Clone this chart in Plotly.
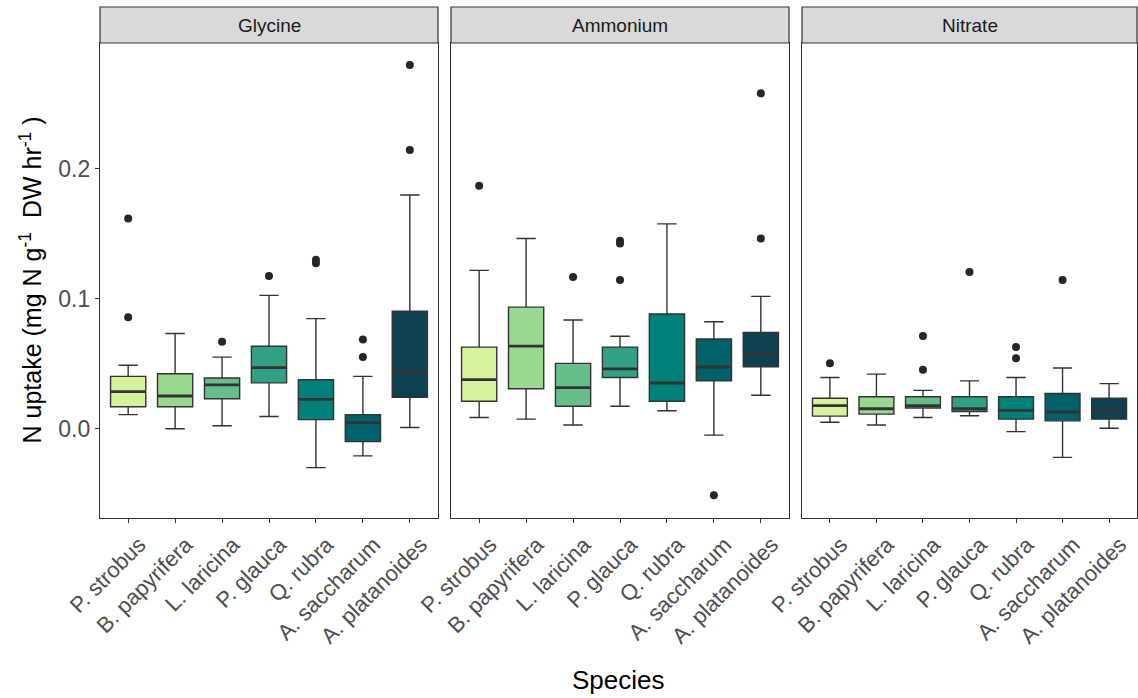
import plotly.graph_objects as go

# ---- data -------------------------------------------------------------
species = ["P. strobus", "B. papyrifera", "L. laricina", "P. glauca",
           "Q. rubra", "A. saccharum", "A. platanoides"]
fills = ["#D5F39F", "#99D891", "#66BE8A", "#33A086", "#00807A", "#00616A", "#0D4050"]
panels = ["Glycine", "Ammonium", "Nitrate"]

# Glycine
gly_low = [0.0109, 0.0000, 0.0023, 0.0094, -0.0299, -0.0208, 0.0010]
gly_q1 = [0.0169, 0.0169, 0.0231, 0.0353, 0.0070, -0.0099, 0.0242]
gly_med = [0.0286, 0.0252, 0.0338, 0.0470, 0.0226, 0.0047, 0.0434]
gly_q3 = [0.0403, 0.0423, 0.0390, 0.0634, 0.0377, 0.0109, 0.0904]
gly_high = [0.0488, 0.0732, 0.0551, 0.1026, 0.0847, 0.0403, 0.1797]
gly_out_sp = [0, 0, 2, 3, 4, 4, 5, 5, 6, 6]
gly_out_val = [0.1616, 0.0857, 0.0670, 0.1174, 0.1299, 0.1273, 0.0686, 0.0551, 0.2797, 0.2143]

# Ammonium
amm_low = [0.0087, 0.0074, 0.0029, 0.0173, 0.0139, -0.0049, 0.0258]
amm_q1 = [0.0212, 0.0308, 0.0173, 0.0394, 0.0212, 0.0368, 0.0477]
amm_med = [0.0378, 0.0636, 0.0316, 0.0461, 0.0352, 0.0475, 0.0576]
amm_q3 = [0.0628, 0.0935, 0.0503, 0.0628, 0.0883, 0.0690, 0.0740]
amm_high = [0.1218, 0.1463, 0.0836, 0.0711, 0.1575, 0.0823, 0.1018]
amm_out_sp = [0, 2, 3, 3, 3, 5, 6, 6]
amm_out_val = [0.1868, 0.1166, 0.1445, 0.1425, 0.1143, -0.0512, 0.2579, 0.1463]

# Nitrate
nit_low = [0.0050, 0.0029, 0.0087, 0.0100, -0.0022, -0.0220, 0.0004]
nit_q1 = [0.0097, 0.0113, 0.0160, 0.0133, 0.0074, 0.0061, 0.0074]
nit_med = [0.0178, 0.0154, 0.0178, 0.0154, 0.0142, 0.0129, 0.0144]
nit_q3 = [0.0235, 0.0246, 0.0246, 0.0246, 0.0246, 0.0271, 0.0235]
nit_high = [0.0394, 0.0420, 0.0295, 0.0368, 0.0394, 0.0467, 0.0347]
nit_out_sp = [0, 2, 2, 3, 4, 4, 5]
nit_out_val = [0.0503, 0.0713, 0.0454, 0.1205, 0.0628, 0.0542, 0.1143]

y_ticks = [0.0, 0.1, 0.2]
y_ticktext = ["0.0", "0.1", "0.2"]

stats = [
    (gly_low, gly_q1, gly_med, gly_q3, gly_high, gly_out_sp, gly_out_val),
    (amm_low, amm_q1, amm_med, amm_q3, amm_high, amm_out_sp, amm_out_val),
    (nit_low, nit_q1, nit_med, nit_q3, nit_high, nit_out_sp, nit_out_val),
]

# ---- layout geometry --------------------------------------------------
W, H = 1138, 698
FONT = "Liberation Sans, Arial, sans-serif"
EDGE = "#333333"
TXT = "#4D4D4D"
BOX_W = 0.75
panel_px = [(100, 438), (451, 789), (802, 1137)]
plot_top, plot_bot = 43, 518
strip_top = 7
y_dom = [(H - plot_bot) / H, (H - plot_top) / H]
y_range = [-0.0686, 0.2966]

fig = go.Figure()

for p, (low, q1, med, q3, high, osp, oval) in enumerate(stats):
    xa = "x" if p == 0 else f"x{p + 1}"
    ya = "y" if p == 0 else f"y{p + 1}"
    for i in range(len(species)):
        fig.add_trace(go.Box(
            x=[i], q1=[q1[i]], median=[med[i]], q3=[q3[i]],
            lowerfence=[low[i]], upperfence=[high[i]],
            width=BOX_W, whiskerwidth=0.55,
            fillcolor=fills[i], line=dict(color=EDGE, width=1.4),
            boxpoints=False, hoverinfo="skip",
            xaxis=xa, yaxis=ya, showlegend=False,
        ))
        # thicker median bar, as in ggplot boxplots
        fig.add_trace(go.Scatter(
            x=[i - BOX_W / 2, i + BOX_W / 2], y=[med[i], med[i]],
            mode="lines", line=dict(color=EDGE, width=2.8),
            hoverinfo="skip", xaxis=xa, yaxis=ya, showlegend=False,
        ))
    fig.add_trace(go.Scatter(
        x=osp, y=oval, mode="markers",
        marker=dict(color="#262626", size=8),
        hoverinfo="skip", xaxis=xa, yaxis=ya, showlegend=False,
    ))

layout = dict(
    width=W, height=H,
    margin=dict(l=0, r=0, t=0, b=0),
    paper_bgcolor="white", plot_bgcolor="white",
    font=dict(family=FONT, color="black"),
    showlegend=False,
)

shapes = []
annotations = []
for p, (x0, x1) in enumerate(panel_px):
    sfx = "" if p == 0 else str(p + 1)
    layout[f"xaxis{sfx}"] = dict(
        domain=[x0 / W, x1 / W], range=[-0.6, 6.6],
        tickmode="array", tickvals=list(range(len(species))), ticktext=species,
        tickangle=-45, ticks="outside", ticklen=4, tickcolor=EDGE, tickwidth=1,
        tickfont=dict(family=FONT, size=22, color=TXT),
        ticklabelshift=11,
        showline=True, mirror=True, linecolor=EDGE, linewidth=1.2,
        showgrid=False, zeroline=False, automargin=False,
        anchor="y" + sfx, fixedrange=True,
    )
    layout[f"yaxis{sfx}"] = dict(
        domain=y_dom, range=y_range,
        tickmode="array", tickvals=y_ticks, ticktext=y_ticktext,
        ticks="outside" if p == 0 else "", ticklen=4, tickcolor=EDGE,
        showticklabels=(p == 0),
        tickfont=dict(family=FONT, size=23, color=TXT),
        showline=True, mirror=True, linecolor=EDGE, linewidth=1.2,
        showgrid=False, zeroline=False, automargin=False,
        anchor="x" + sfx, fixedrange=True,
    )
    # facet strip
    shapes.append(dict(
        type="rect", xref="paper", yref="paper",
        x0=x0 / W, x1=x1 / W, y0=(H - plot_top) / H, y1=(H - strip_top) / H,
        fillcolor="#D9D9D9", line=dict(color=EDGE, width=1.2), layer="above",
    ))
    annotations.append(dict(
        text=panels[p], xref="paper", yref="paper",
        x=(x0 + x1) / 2 / W, y=(H - (plot_top + strip_top) / 2) / H,
        showarrow=False, xanchor="center", yanchor="middle",
        font=dict(family=FONT, size=19, color="#1A1A1A"),
    ))

annotations.append(dict(
    text="N uptake (mg N g<sup>-1</sup>\u00a0 DW hr<sup>-1</sup>\u00a0)",
    xref="paper", yref="paper", x=30 / W, y=(H - (plot_top + plot_bot) / 2) / H,
    textangle=-90, showarrow=False, xanchor="center", yanchor="middle",
    font=dict(family=FONT, size=25, color="black"),
))
annotations.append(dict(
    text="Species", xref="paper", yref="paper",
    x=(panel_px[0][0] + panel_px[-1][1]) / 2 / W, y=(H - 680) / H,
    showarrow=False, xanchor="center", yanchor="middle",
    font=dict(family=FONT, size=26, color="black"),
))

layout["shapes"] = shapes
layout["annotations"] = annotations
fig.update_layout(**layout)

fig.write_html("out.html", config={"displayModeBar": False})
